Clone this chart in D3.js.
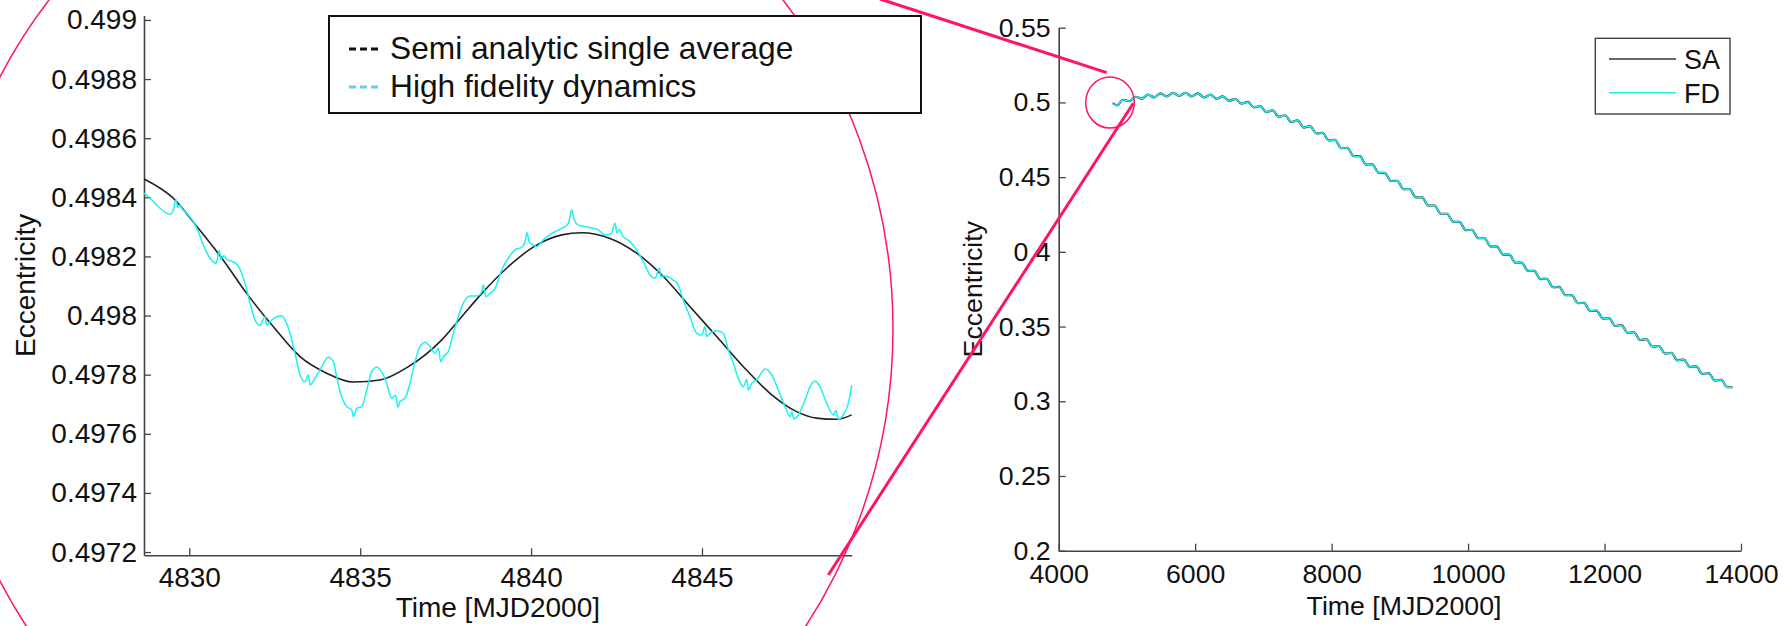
<!DOCTYPE html>
<html>
<head>
<meta charset="utf-8">
<script src="https://cdnjs.cloudflare.com/ajax/libs/d3/7.8.5/d3.min.js"></script>
<style>
  body { margin: 0; background: #fff; }
  svg { display: block; font-family: "Liberation Sans", Arial, sans-serif; }
</style>
</head>
<body>
<div id="chart"></div>
<script>
// ---------- data ----------
// zoomed panel (left): semi analytic single average
const zoomSATime = [4828.675, 4829.53, 4830.22, 4830.99, 4831.68, 4832.46, 4833.24, 4834.02, 4834.80, 4835.58,
  4836.41, 4837.38, 4837.97, 4838.56, 4839.33, 4840.11, 4840.90, 4841.48, 4842.31, 4843.09,
  4843.87, 4844.65, 4845.43, 4846.21, 4846.99, 4847.77, 4848.35, 4848.94, 4849.38];
const zoomSA = [0.498462, 0.498397, 0.498301, 0.498188, 0.498075, 0.497962, 0.497861, 0.497805, 0.497775, 0.497782,
  0.497827, 0.497917, 0.497996, 0.498075, 0.498165, 0.498235, 0.498273, 0.498280, 0.498261, 0.498211,
  0.498132, 0.498030, 0.497929, 0.497827, 0.497737, 0.497675, 0.497653, 0.497649, 0.497664];

// zoomed panel (left): high fidelity dynamics
const zoomFDTime = [4828.675, 4828.851, 4829.143, 4829.436, 4829.532, 4829.611, 4829.661, 4829.728, 4829.778, 4829.924,
  4830.117, 4830.264, 4830.410, 4830.606, 4830.782, 4830.878, 4830.928, 4831.016, 4831.112, 4831.288,
  4831.416, 4831.533, 4831.659, 4831.776, 4831.923, 4832.069, 4832.215, 4832.265, 4832.411, 4832.704,
  4832.800, 4832.947, 4833.093, 4833.239, 4833.385, 4833.482, 4833.532, 4833.678, 4833.824, 4834.067,
  4834.213, 4834.313, 4834.409, 4834.605, 4834.752, 4834.799, 4834.898, 4835.044, 4835.191, 4835.337,
  4835.483, 4835.629, 4835.776, 4835.922, 4836.033, 4836.106, 4836.165, 4836.311, 4836.457, 4836.604,
  4836.750, 4836.896, 4837.043, 4837.189, 4837.285, 4837.356, 4837.432, 4837.578, 4837.724, 4837.871,
  4838.017, 4838.213, 4838.409, 4838.535, 4838.602, 4838.672, 4838.798, 4838.944, 4839.140, 4839.333,
  4839.529, 4839.725, 4839.822, 4839.889, 4839.939, 4840.018, 4840.164, 4840.357, 4840.603, 4840.896,
  4841.089, 4841.188, 4841.264, 4841.381, 4841.674, 4841.967, 4842.162, 4842.338, 4842.455, 4842.514,
  4842.581, 4842.698, 4842.894, 4843.090, 4843.283, 4843.479, 4843.625, 4843.751, 4843.801, 4843.918,
  4844.161, 4844.307, 4844.453, 4844.649, 4844.845, 4844.992, 4845.088, 4845.138, 4845.234, 4845.431,
  4845.624, 4845.770, 4845.916, 4846.063, 4846.209, 4846.308, 4846.355, 4846.455, 4846.601, 4846.844,
  4847.040, 4847.233, 4847.429, 4847.575, 4847.625, 4847.692, 4847.818, 4848.014, 4848.160, 4848.306,
  4848.453, 4848.649, 4848.842, 4848.921, 4848.988, 4849.135, 4849.281, 4849.380];
const zoomFD = [0.498414, 0.498397, 0.498363, 0.498343, 0.498357, 0.498393, 0.498366, 0.498374, 0.498363, 0.498346,
  0.498318, 0.498284, 0.498239, 0.498194, 0.498177, 0.498219, 0.498190, 0.498202, 0.498188, 0.498182,
  0.498171, 0.498143, 0.498098, 0.498042, 0.497985, 0.497967, 0.497996, 0.497968, 0.497985, 0.497999,
  0.497985, 0.497940, 0.497872, 0.497799, 0.497776, 0.497799, 0.497765, 0.497788, 0.497816, 0.497859,
  0.497844, 0.497793, 0.497743, 0.497692, 0.497681, 0.497658, 0.497686, 0.497692, 0.497748, 0.497810,
  0.497825, 0.497810, 0.497771, 0.497720, 0.497731, 0.497690, 0.497709, 0.497720, 0.497771, 0.497844,
  0.497895, 0.497910, 0.497895, 0.497872, 0.497889, 0.497844, 0.497861, 0.497878, 0.497940, 0.497996,
  0.498042, 0.498066, 0.498066, 0.498075, 0.498103, 0.498064, 0.498075, 0.498092, 0.498154, 0.498194,
  0.498222, 0.498231, 0.498250, 0.498280, 0.498250, 0.498242, 0.498233, 0.498256, 0.498278, 0.498295,
  0.498312, 0.498357, 0.498323, 0.498306, 0.498299, 0.498290, 0.498273, 0.498276, 0.498312, 0.498279,
  0.498290, 0.498267, 0.498250, 0.498222, 0.498182, 0.498137, 0.498126, 0.498160, 0.498132, 0.498134,
  0.498120, 0.498103, 0.498053, 0.497996, 0.497940, 0.497934, 0.497962, 0.497929, 0.497940, 0.497949,
  0.497940, 0.497884, 0.497839, 0.497788, 0.497759, 0.497784, 0.497748, 0.497771, 0.497782, 0.497819,
  0.497799, 0.497748, 0.497692, 0.497658, 0.497675, 0.497649, 0.497664, 0.497714, 0.497759, 0.497779,
  0.497759, 0.497703, 0.497664, 0.497678, 0.497649, 0.497664, 0.497703, 0.497765];

// full panel (right): peaks and troughs of the semi-annual wiggle
const fullTime = [4790, 4853, 4944, 5036, 5127, 5218, 5310, 5401, 5492, 5583,
  5675, 5766, 5857, 5949, 6040, 6131, 6223, 6314, 6405, 6496,
  6588, 6679, 6770, 6862, 6953, 7044, 7136, 7227, 7318, 7409,
  7501, 7592, 7683, 7775, 7866, 7957, 8049, 8140, 8231, 8322,
  8414, 8505, 8596, 8688, 8779, 8870, 8962, 9053, 9144, 9235,
  9327, 9418, 9509, 9601, 9692, 9783, 9874, 9966, 10057, 10148,
  10240, 10331, 10422, 10514, 10605, 10696, 10787, 10879, 10970, 11061,
  11153, 11244, 11335, 11427, 11518, 11609, 11700, 11792, 11883, 11974,
  12066, 12157, 12248, 12339, 12431, 12522, 12613, 12705, 12796, 12887,
  12978, 13070, 13161, 13252, 13343, 13435, 13526, 13617, 13709, 13800, 13875];
const fullSA = [0.4996, 0.4980, 0.5018, 0.5008, 0.5038, 0.5024, 0.5052, 0.5034, 0.5061, 0.5040,
  0.5064, 0.5043, 0.5064, 0.5041, 0.5060, 0.5034, 0.5052, 0.5024, 0.5040, 0.5011,
  0.5023, 0.4992, 0.5003, 0.4967, 0.4975, 0.4935, 0.4947, 0.4903, 0.4914, 0.4869,
  0.4880, 0.4832, 0.4841, 0.4793, 0.4797, 0.4746, 0.4749, 0.4694, 0.4696, 0.4640,
  0.4640, 0.4584, 0.4585, 0.4529, 0.4529, 0.4474, 0.4475, 0.4419, 0.4420, 0.4364,
  0.4365, 0.4310, 0.4310, 0.4255, 0.4255, 0.4200, 0.4201, 0.4145, 0.4147, 0.4092,
  0.4092, 0.4037, 0.4037, 0.3982, 0.3982, 0.3927, 0.3928, 0.3872, 0.3873, 0.3818,
  0.3819, 0.3764, 0.3765, 0.3710, 0.3711, 0.3657, 0.3658, 0.3604, 0.3607, 0.3553,
  0.3557, 0.3505, 0.3509, 0.3457, 0.3462, 0.3410, 0.3416, 0.3365, 0.3370, 0.3319,
  0.3324, 0.3274, 0.3279, 0.3229, 0.3234, 0.3183, 0.3189, 0.3138, 0.3144, 0.3094, 0.3095];
// at this scale the full dynamics sit on top of the averaged curve
const fullFD = fullSA.slice();

// ticks and labels
const zoomXTicks = [4830, 4835, 4840, 4845];
const zoomYTicks = [0.4972, 0.4974, 0.4976, 0.4978, 0.498, 0.4982, 0.4984, 0.4986, 0.4988, 0.499];
const fullXTicks = [4000, 6000, 8000, 10000, 12000, 14000];
const fullYTicks = [0.2, 0.25, 0.3, 0.35, 0.4, 0.45, 0.5, 0.55];
const zoomLegend = ["Semi analytic single average", "High fidelity dynamics"];
const fullLegend = ["SA", "FD"];
const xLabel = "Time [MJD2000]";
const yLabel = "Eccentricity";

// ---------- drawing ----------
const W = 1786, H = 626;
const pink = "#ff1466";
const cyan = "#1ef0f0";

const svg = d3.select("#chart").append("svg")
  .attr("width", W)
  .attr("height", H);

svg.append("rect").attr("width", W).attr("height", H).attr("fill", "#fff");

function drawAxes(x, y, xTicks, yTicks, fs, xPad, yPad) {
  const xAxis = svg.append("g")
    .attr("transform", `translate(0,${y.range()[0]})`)
    .call(d3.axisBottom(x).tickValues(xTicks).tickSizeInner(-7).tickSizeOuter(0)
      .tickPadding(xPad).tickFormat(d => String(d)));
  const yAxis = svg.append("g")
    .attr("transform", `translate(${x.range()[0]},0)`)
    .call(d3.axisLeft(y).tickValues(yTicks).tickSizeInner(-7).tickSizeOuter(0)
      .tickPadding(yPad).tickFormat(d => String(d)));
  [xAxis, yAxis].forEach(a => {
    a.attr("font-family", null).attr("font-size", fs);
    a.select(".domain").attr("stroke", "#444").attr("stroke-width", 1.6);
    a.selectAll(".tick line").attr("stroke", "#444").attr("stroke-width", 1.3);
    a.selectAll(".tick text").attr("fill", "#111");
  });
}

function drawLine(x, y, ts, vs, colour, width) {
  const pts = ts.map((t, i) => [t, vs[i]]);
  svg.append("path")
    .datum(pts)
    .attr("fill", "none")
    .attr("stroke", colour)
    .attr("stroke-width", width)
    .attr("stroke-linejoin", "round")
    .attr("d", d3.line().x(d => x(d[0])).y(d => y(d[1])).curve(d3.curveMonotoneX));
}

// left panel: zoom on the first days
const xL = d3.scaleLinear().domain([4828.675, 4849.38]).range([144, 851.7]);
const yL = d3.scaleLinear().domain([0.497189, 0.499015]).range([555.3, 15.5]);

// right panel: whole propagation
const xR = d3.scaleLinear().domain([4000, 14000]).range([1058.7, 1741]);
const yR = d3.scaleLinear().domain([0.2, 0.55]).range([550.7, 27.7]);

// big ellipse round the zoomed panel (annotation)
svg.append("ellipse")
  .attr("cx", 416).attr("cy", 329).attr("rx", 477).attr("ry", 515)
  .attr("fill", "none").attr("stroke", pink).attr("stroke-width", 1.5);

drawAxes(xL, yL, zoomXTicks, zoomYTicks, 28, 12, 7);
drawLine(xL, yL, zoomSATime, zoomSA, "#222", 1.6);
drawLine(xL, yL, zoomFDTime, zoomFD, cyan, 1.5);

drawAxes(xR, yR, fullXTicks, fullYTicks, 26.7, 13, 8);
drawLine(xR, yR, fullTime, fullSA, "#222", 2.2);
drawLine(xR, yR, fullTime, fullFD, cyan, 1.6);

// axis titles
svg.append("text").attr("x", d3.mean(xL.range())).attr("y", 617)
  .attr("text-anchor", "middle").attr("font-size", 28).attr("fill", "#111").text(xLabel);
svg.append("text").attr("transform", `translate(35,${d3.mean(yL.range())}) rotate(-90)`)
  .attr("text-anchor", "middle").attr("font-size", 28).attr("fill", "#111").text(yLabel);
svg.append("text").attr("x", 1404).attr("y", 615)
  .attr("text-anchor", "middle").attr("font-size", 26.7).attr("fill", "#111").text(xLabel);
svg.append("text").attr("transform", `translate(982,${d3.mean(yR.range())}) rotate(-90)`)
  .attr("text-anchor", "middle").attr("font-size", 26.7).attr("fill", "#111").text(yLabel);

// left legend (dashed samples as in the original)
const legL = svg.append("g");
legL.append("rect").attr("x", 329).attr("y", 16).attr("width", 592).attr("height", 97)
  .attr("fill", "#fff").attr("stroke", "#111").attr("stroke-width", 2);
zoomLegend.forEach((name, i) => {
  const yy = 49 + i * 38;
  legL.append("line").attr("x1", 349).attr("x2", 379).attr("y1", yy).attr("y2", yy)
    .attr("stroke", i === 0 ? "#111" : "#6ccaf0").attr("stroke-width", 3)
    .attr("stroke-dasharray", "7,4");
  legL.append("text").attr("x", 390).attr("y", yy + 10)
    .attr("font-size", 31.7).attr("fill", "#111").text(name);
});

// right legend
const legR = svg.append("g");
legR.append("rect").attr("x", 1595.3).attr("y", 38.3).attr("width", 134.7).attr("height", 75.7)
  .attr("fill", "#fff").attr("stroke", "#444").attr("stroke-width", 1.4);
fullLegend.forEach((name, i) => {
  const yy = 59 + i * 33.7;
  legR.append("line").attr("x1", 1609).attr("x2", 1676).attr("y1", yy).attr("y2", yy)
    .attr("stroke", i === 0 ? "#333" : cyan).attr("stroke-width", 1.4);
  legR.append("text").attr("x", 1684).attr("y", yy + 10)
    .attr("font-size", 27).attr("fill", "#111").text(name);
});

// zoom marker on the right panel and the two connector lines
const cx = xR(4752), cy = yR(0.49987);
svg.append("ellipse").attr("cx", cx).attr("cy", cy).attr("rx", 24.3).attr("ry", 25.5)
  .attr("fill", "none").attr("stroke", pink).attr("stroke-width", 1.5);
svg.append("line").attr("x1", 880).attr("y1", -1).attr("x2", cx - 3.3).attr("y2", cy - 30)
  .attr("stroke", pink).attr("stroke-width", 3);
svg.append("line").attr("x1", cx + 23.3).attr("y1", cy + 0.6).attr("x2", 828.3).attr("y2", 575)
  .attr("stroke", pink).attr("stroke-width", 3);
</script>
</body>
</html>
